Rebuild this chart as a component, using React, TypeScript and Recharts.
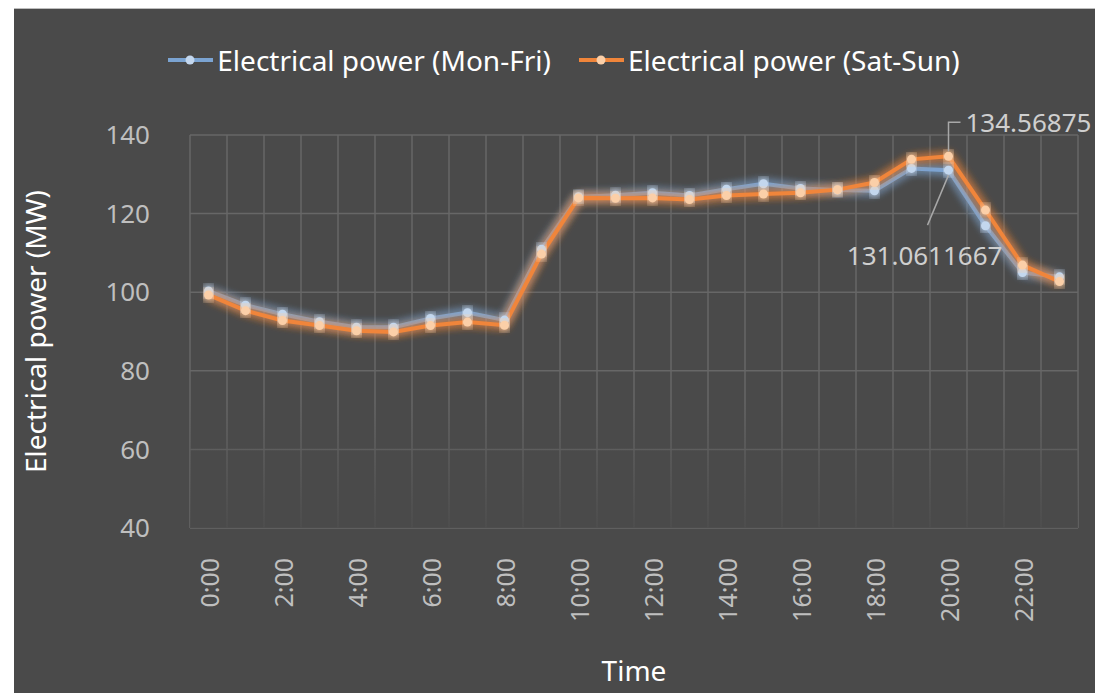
import React from "react";
import { CartesianGrid, LabelList, Legend, Line, LineChart, ReferenceArea, XAxis, YAxis } from "recharts";

const HOURS = [
  "0:00", "1:00", "2:00", "3:00", "4:00", "5:00", "6:00", "7:00",
  "8:00", "9:00", "10:00", "11:00", "12:00", "13:00", "14:00", "15:00",
  "16:00", "17:00", "18:00", "19:00", "20:00", "21:00", "22:00", "23:00",
];

const MON_FRI = [
  100.3, 96.7, 94.4, 92.5, 91.1, 91.1, 93.3, 94.8, 92.9, 110.9, 124.3, 124.7,
  125.3, 124.6, 126.2, 127.6, 126.4, 126.0, 125.8, 131.5, 131.0611667, 116.9, 105.0, 103.9,
];

const SAT_SUN = [
  99.3, 95.3, 92.8, 91.5, 90.2, 89.9, 91.5, 92.4, 91.6, 109.7, 124.0, 123.9,
  124.0, 123.6, 124.6, 125.0, 125.3, 126.1, 127.9, 133.8, 134.56875, 120.9, 106.9, 102.7,
];

const Y_TICKS = [40, 60, 80, 100, 120, 140];
const LABEL_INDEX = 20;

const SERIES = [
  { key: "monFri", name: "Electrical power (Mon-Fri)", color: "#7ba4d2", dot: "#c3d7ee", glow: "glowBlue" },
  { key: "satSun", name: "Electrical power (Sat-Sun)", color: "#f0853a", dot: "#fbcfa8", glow: "glowOrange" },
];

const data = HOURS.map((hour, i) => ({ hour, monFri: MON_FRI[i], satSun: SAT_SUN[i] }));

const FONT = "'Noto Sans', 'Open Sans', sans-serif";
const BG = "#4a4a4a";
const GRID = "#676767";
const TICK = "#bfbfbf";

function LegendContent() {
  return (
    <div style={{ display: "flex", justifyContent: "center", height: 40, alignItems: "center", fontFamily: FONT, paddingLeft: 30 }}>
      {SERIES.map((s, i) => (
        <div key={s.key} style={{ display: "flex", alignItems: "center", marginLeft: i ? 28 : 0 }}>
          <svg width={45} height={12}>
            <line x1={0} y1={6} x2={45} y2={6} stroke={s.color} strokeWidth={4} />
            <circle cx={22} cy={6} r={4.5} fill={s.dot} />
          </svg>
          <span style={{ color: "#ffffff", fontSize: 28, marginLeft: 4 }}>{s.name}</span>
        </div>
      ))}
    </div>
  );
}

function TopLabel(props: any) {
  const { x, y, index, value } = props;
  if (index !== LABEL_INDEX) return null;
  const top = y - 34;
  return (
    <g>
      <path d={`M${x},${y - 5} L${x},${top} L${x + 12},${top}`} stroke="#a8a8a8" strokeWidth={1.5} fill="none" />
      <text x={x + 17} y={top} dominantBaseline="central" fill="#cfcfcf" fontSize={26} fontFamily={FONT}>
        {value}
      </text>
    </g>
  );
}

function BottomLabel(props: any) {
  const { x, y, index, value } = props;
  if (index !== LABEL_INDEX) return null;
  return (
    <g>
      <path d={`M${x},${y + 5} L${x - 21},${y + 55}`} stroke="#a8a8a8" strokeWidth={1.5} fill="none" />
      <text x={x + 54} y={y + 85} textAnchor="end" dominantBaseline="central" fill="#cfcfcf" fontSize={26} fontFamily={FONT}>
        {value}
      </text>
    </g>
  );
}

function XTick(props: any) {
  const { x, y, payload } = props;
  return (
    <text
      x={x}
      y={y}
      transform={`rotate(-90, ${x}, ${y})`}
      textAnchor="end"
      dominantBaseline="central"
      fill={TICK}
      fontSize={25}
      fontFamily={FONT}
    >
      {payload.value}
    </text>
  );
}

export default function App() {
  return (
    <div style={{ position: "absolute", left: 0, top: 0, width: 1095, height: 693, background: "#ffffff" }}>
      <div style={{ position: "absolute", left: 14, top: 8, right: 0, bottom: 0, background: BG, borderTop: "1px solid #bdbdbd" }} />
      <div style={{ position: "absolute", left: 0, top: 0 }}>
        <LineChart width={1095} height={693} data={data} margin={{ top: 95, right: 17, bottom: 0, left: 20 }}>
          <defs>
            {SERIES.map((s) => (
              <filter key={s.glow} id={s.glow} x="-10%" y="-30%" width="120%" height="160%">
                <feGaussianBlur in="SourceGraphic" stdDeviation={5} result="blur" />
                <feMerge>
                  <feMergeNode in="blur" />
                  <feMergeNode in="blur" />
                  <feMergeNode in="SourceGraphic" />
                </feMerge>
              </filter>
            ))}
            <linearGradient id="gridFade" x1="0" y1="0" x2="0" y2="1">
              <stop offset="0%" stopColor={BG} stopOpacity={0} />
              <stop offset="100%" stopColor={BG} stopOpacity={0.85} />
            </linearGradient>
          </defs>
          <Legend verticalAlign="top" content={<LegendContent />} wrapperStyle={{ top: 40 }} />
          <CartesianGrid
            stroke={GRID}
            strokeWidth={1.5}
            verticalCoordinatesGenerator={({ offset }: any) =>
              Array.from({ length: HOURS.length + 1 }, (_, i) => offset.left + (i * offset.width) / HOURS.length)
            }
          />
          <ReferenceArea y1={40} y2={72} fill="url(#gridFade)" fillOpacity={1} stroke="none" />
          <XAxis
            dataKey="hour"
            scale="band"
            interval={1}
            height={165}
            axisLine={false}
            tickLine={false}
            tick={<XTick />}
            tickMargin={24}
            label={{ value: "Time", position: "insideBottom", offset: 12, fill: "#ffffff", fontSize: 28, fontFamily: FONT }}
          />
          <YAxis
            domain={[40, 140]}
            ticks={Y_TICKS}
            width={170}
            axisLine={false}
            tickLine={false}
            tickMargin={34}
            tick={{ fill: TICK, fontSize: 26, fontFamily: FONT }}
            label={{
              value: "Electrical power (MW)",
              angle: -90,
              position: "insideLeft",
              offset: 16,
              style: { textAnchor: "middle" },
              fill: "#ffffff",
              fontSize: 28,
              fontFamily: FONT,
            }}
          />
          {SERIES.map((s) => (
            <Line
              key={s.key}
              type="linear"
              dataKey={s.key}
              name={s.name}
              stroke={s.color}
              strokeWidth={4}
              filter={`url(#${s.glow})`}
              dot={{ r: 4.5, fill: s.dot, stroke: "none" }}
              isAnimationActive={false}
            >
              <LabelList dataKey={s.key} content={s.key === "satSun" ? <TopLabel /> : <BottomLabel />} />
            </Line>
          ))}
        </LineChart>
      </div>
    </div>
  );
}
